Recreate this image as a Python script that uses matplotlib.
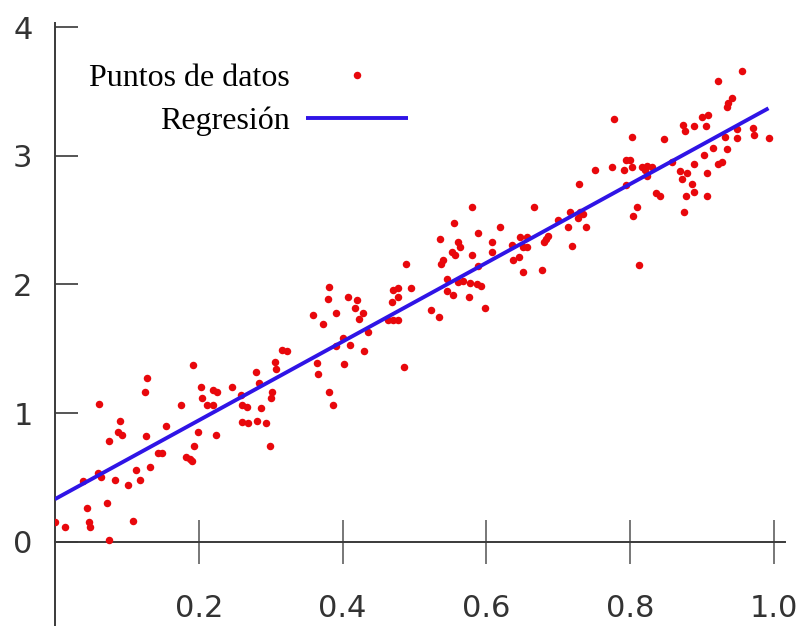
import numpy as np
import matplotlib
matplotlib.use('Agg')
import matplotlib.pyplot as plt

# ── Data ──────────────────────────────────────────────────────────────────────

pts_x = [
    0.192, 0.128, 0.125, 0.061, 0.091, 0.088, 0.093, 0.075, 0.127, 0.155,
    0.175, 0.203, 0.205, 0.220, 0.225, 0.212, 0.220, 0.246, 0.259, 0.260,
    0.267, 0.287, 0.280, 0.284, 0.306, 0.307, 0.316, 0.323, 0.302, 0.300,
    0.260, 0.268, 0.281, 0.293, 0.299, 0.199, 0.224, 0.193, 0.182, 0.188,
    0.191, 0.143, 0.149, 0.132, 0.118, 0.113, 0.102, 0.084, 0.064, 0.060,
    0.039, 0.073, 0.045, 0.048, 0.049, 0.014, 0.000, 0.109, 0.075,
    0.580, 0.555, 0.588, 0.619, 0.608, 0.608, 0.580, 0.535, 0.560, 0.563,
    0.552, 0.556, 0.539, 0.537, 0.588, 0.545, 0.560, 0.567, 0.577, 0.587,
    0.592, 0.545, 0.553, 0.576, 0.598, 0.488, 0.470, 0.477, 0.495, 0.469,
    0.477, 0.463, 0.470, 0.477, 0.523, 0.534, 0.381, 0.380, 0.407, 0.420,
    0.417, 0.428, 0.423, 0.391, 0.359, 0.373, 0.435, 0.400, 0.410, 0.430,
    0.391, 0.364, 0.366, 0.402, 0.485, 0.381, 0.387,
    0.955, 0.922, 0.941, 0.936, 0.934, 0.777, 0.802, 0.847, 0.873, 0.876,
    0.888, 0.899, 0.908, 0.905, 0.931, 0.948, 0.948, 0.970, 0.972, 0.993,
    0.915, 0.934, 0.902, 0.888, 0.922, 0.927, 0.906, 0.869, 0.879, 0.872,
    0.885, 0.888, 0.877, 0.906, 0.874, 0.841, 0.835, 0.858, 0.794, 0.799,
    0.791, 0.802, 0.816, 0.823, 0.830, 0.820, 0.794, 0.809, 0.803, 0.812,
    0.774, 0.751, 0.728, 0.666, 0.716, 0.730, 0.734, 0.727, 0.699, 0.713,
    0.738, 0.719, 0.685, 0.683, 0.680, 0.646, 0.656, 0.651, 0.656, 0.635,
    0.637, 0.645, 0.651, 0.677, 0.823,
]
pts_y = [
    1.37, 1.27, 1.16, 1.07, 0.94, 0.85, 0.83, 0.78, 0.82, 0.90,
    1.06, 1.20, 1.12, 1.18, 1.16, 1.06, 1.06, 1.20, 1.14, 1.06,
    1.05, 1.04, 1.32, 1.23, 1.40, 1.34, 1.49, 1.48, 1.16, 1.12,
    0.93, 0.92, 0.94, 0.92, 0.74, 0.85, 0.83, 0.74, 0.66, 0.64,
    0.63, 0.69, 0.69, 0.58, 0.48, 0.56, 0.44, 0.48, 0.50, 0.53,
    0.47, 0.30, 0.26, 0.15, 0.11, 0.11, 0.15, 0.16, 0.01,
    2.60, 2.48, 2.40, 2.45, 2.33, 2.25, 2.23, 2.35, 2.33, 2.29,
    2.25, 2.23, 2.19, 2.16, 2.14, 2.04, 2.02, 2.03, 2.01, 2.00,
    1.99, 1.95, 1.92, 1.90, 1.82, 2.16, 1.96, 1.97, 1.97, 1.86,
    1.90, 1.72, 1.72, 1.72, 1.80, 1.75, 1.98, 1.89, 1.90, 1.88,
    1.82, 1.78, 1.73, 1.78, 1.76, 1.69, 1.63, 1.58, 1.53, 1.48,
    1.52, 1.39, 1.30, 1.38, 1.36, 1.16, 1.06,
    3.66, 3.58, 3.45, 3.41, 3.38, 3.29, 3.15, 3.13, 3.24, 3.19,
    3.23, 3.30, 3.32, 3.23, 3.15, 3.21, 3.14, 3.22, 3.16, 3.14,
    3.06, 3.05, 3.01, 2.94, 2.94, 2.95, 2.87, 2.88, 2.87, 2.82,
    2.78, 2.72, 2.69, 2.69, 2.56, 2.69, 2.71, 2.95, 2.97, 2.97,
    2.89, 2.91, 2.91, 2.92, 2.91, 2.89, 2.77, 2.60, 2.53, 2.15,
    2.91, 2.89, 2.78, 2.60, 2.56, 2.56, 2.55, 2.52, 2.50, 2.45,
    2.45, 2.30, 2.38, 2.35, 2.33, 2.37, 2.37, 2.29, 2.29, 2.31,
    2.19, 2.21, 2.10, 2.11, 2.84,
]

# regression line end points
reg_x = [0.0, 0.992]
reg_y = [0.33, 3.37]

x_ticks = [0.2, 0.4, 0.6, 0.8, 1.0]
x_tick_labels = ['0.2', '0.4', '0.6', '0.8', '1.0']
y_ticks = [0, 1, 2, 3, 4]

label_pts = 'Puntos de datos'
label_reg = 'Regresión'

# ── Plot ──────────────────────────────────────────────────────────────────────

fig = plt.figure(figsize=(8.04, 6.26), dpi=100)
ax = fig.add_axes([0.0682, 0.0, 0.9082, 0.9626])

ax.plot(pts_x, pts_y, 'o', ms=5.4, color='#e8080c', mec='none',
        label=label_pts, zorder=3)
ax.plot(reg_x, reg_y, '-', lw=2.8, color='#2f14e6', label=label_reg,
        solid_capstyle='butt', zorder=4)

ax.set_xlim(0, 1.015)
ax.set_ylim(-0.656, 4.03)

for s in ('top', 'right'):
    ax.spines[s].set_visible(False)
ax.spines['bottom'].set_position(('data', 0))
for s in ('left', 'bottom'):
    ax.spines[s].set_color('#3a3a3a')
    ax.spines[s].set_linewidth(1.4)

ax.set_xticks(x_ticks)
ax.set_xticklabels(x_tick_labels)
ax.set_yticks(y_ticks)
ax.tick_params(axis='x', direction='inout', length=31, width=1.4,
               color='#777777', pad=22, labelsize=22, labelcolor='#333333')
ax.tick_params(axis='y', direction='in', length=16.5, width=1.4,
               color='#555555', pad=16, labelsize=22, labelcolor='#333333')

leg = ax.legend(loc='upper right', bbox_to_anchor=(0.5056, 0.959),
                frameon=False, markerfirst=False, borderpad=0,
                handlelength=3.2, handletextpad=0.5, labelspacing=0.4,
                prop={'family': 'Liberation Serif', 'size': 23},
                markerscale=1.0)

fig.savefig('out.png', dpi=100)
